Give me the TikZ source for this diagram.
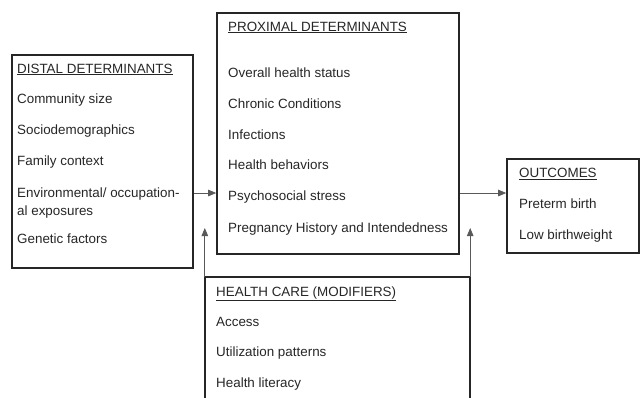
\documentclass[tikz,border=0pt]{standalone}
\usepackage{fontspec}
\setmainfont{Liberation Sans}
\usetikzlibrary{positioning,arrows.meta}

\begin{document}
\begin{tikzpicture}[x=1pt,y=-1pt,
				box/.style={
					draw=black!85, line width=1.6pt,
					inner sep=0pt,
				},
				item/.style={
					anchor=base west, inner sep=0pt,
					text=black!85, font=\fontsize{13.4}{16}\selectfont,
				},
				arr/.style={
					draw=black!65, line width=0.8pt,
					-{Triangle[length=8pt,width=6.5pt]},
				}
				]
				\useasboundingbox (0,0) rectangle (644,397);
				
				% boxes
				\node[box, minimum width=181pt, minimum height=213pt] (distal) at (102.5,161.5) {};
				\node[box, minimum width=242pt, minimum height=241pt] (prox) at (338,133.5) {};
				\node[box, minimum width=132pt, minimum height=94pt] (out) at (573,206) {};
				\node[inner sep=0pt, minimum width=265pt, minimum height=125pt] (care) at (337.5,339.5) {};
				\draw[box] (care.south west) -- (care.north west) -- (care.north east) -- (care.south east);
				
				% texts
				\node[item] (d0) at (17,73) {\underline{DISTAL DETERMINANTS}};
				\node[item] (d1) at (17,103) {Community size};
				\node[item] (d2) at (17,134.5) {Sociodemographics};
				\node[item] (d3) at (17,165) {Family context};
				\node[item] (d4) at (17,197) {Environmental/ occupation-};
				\node[item] (d5) at (17,215) {al exposures};
				\node[item] (d6) at (17,243) {Genetic factors};
				
				\node[item] (p0) at (228,31) {\underline{PROXIMAL DETERMINANTS}};
				\foreach \i/\y/\t in {1/77.5/Overall health status,
					2/108.5/Chronic Conditions,
					3/139/Infections,
					4/169.5/Health behaviors,
					5/200.5/Psychosocial stress,
					6/232/Pregnancy History and Intendedness}
				\node[item] (p\i) at (228,\y) {\t};
				
				\node[item] (c0) at (216,296.5) {\underline{HEALTH CARE (MODIFIERS)}};
				\node[item] (c1) at (216,326) {Access};
				\node[item] (c2) at (216,356.5) {Utilization patterns};
				\node[item] (c3) at (216,387.5) {Health literacy};
				
				\node[item] (o0) at (519,177.5) {\underline{OUTCOMES}};
				\node[item] (o1) at (519,208.5) {Preterm birth};
				\node[item] (o2) at (519,239.5) {Low birthweight};
				
				% connectors
				\coordinate (mid) at (0,193);
				\coordinate (tip) at (0,228);
				\draw[arr] (distal.east |- mid) -- (prox.west |- mid);
				\draw[arr] (prox.east |- mid) -- (out.west |- mid);
				\draw[arr] (care.north west) -- (care.north west |- tip);
				\draw[arr] (care.north east) -- (care.north east |- tip);
			\end{tikzpicture}
\end{document}
